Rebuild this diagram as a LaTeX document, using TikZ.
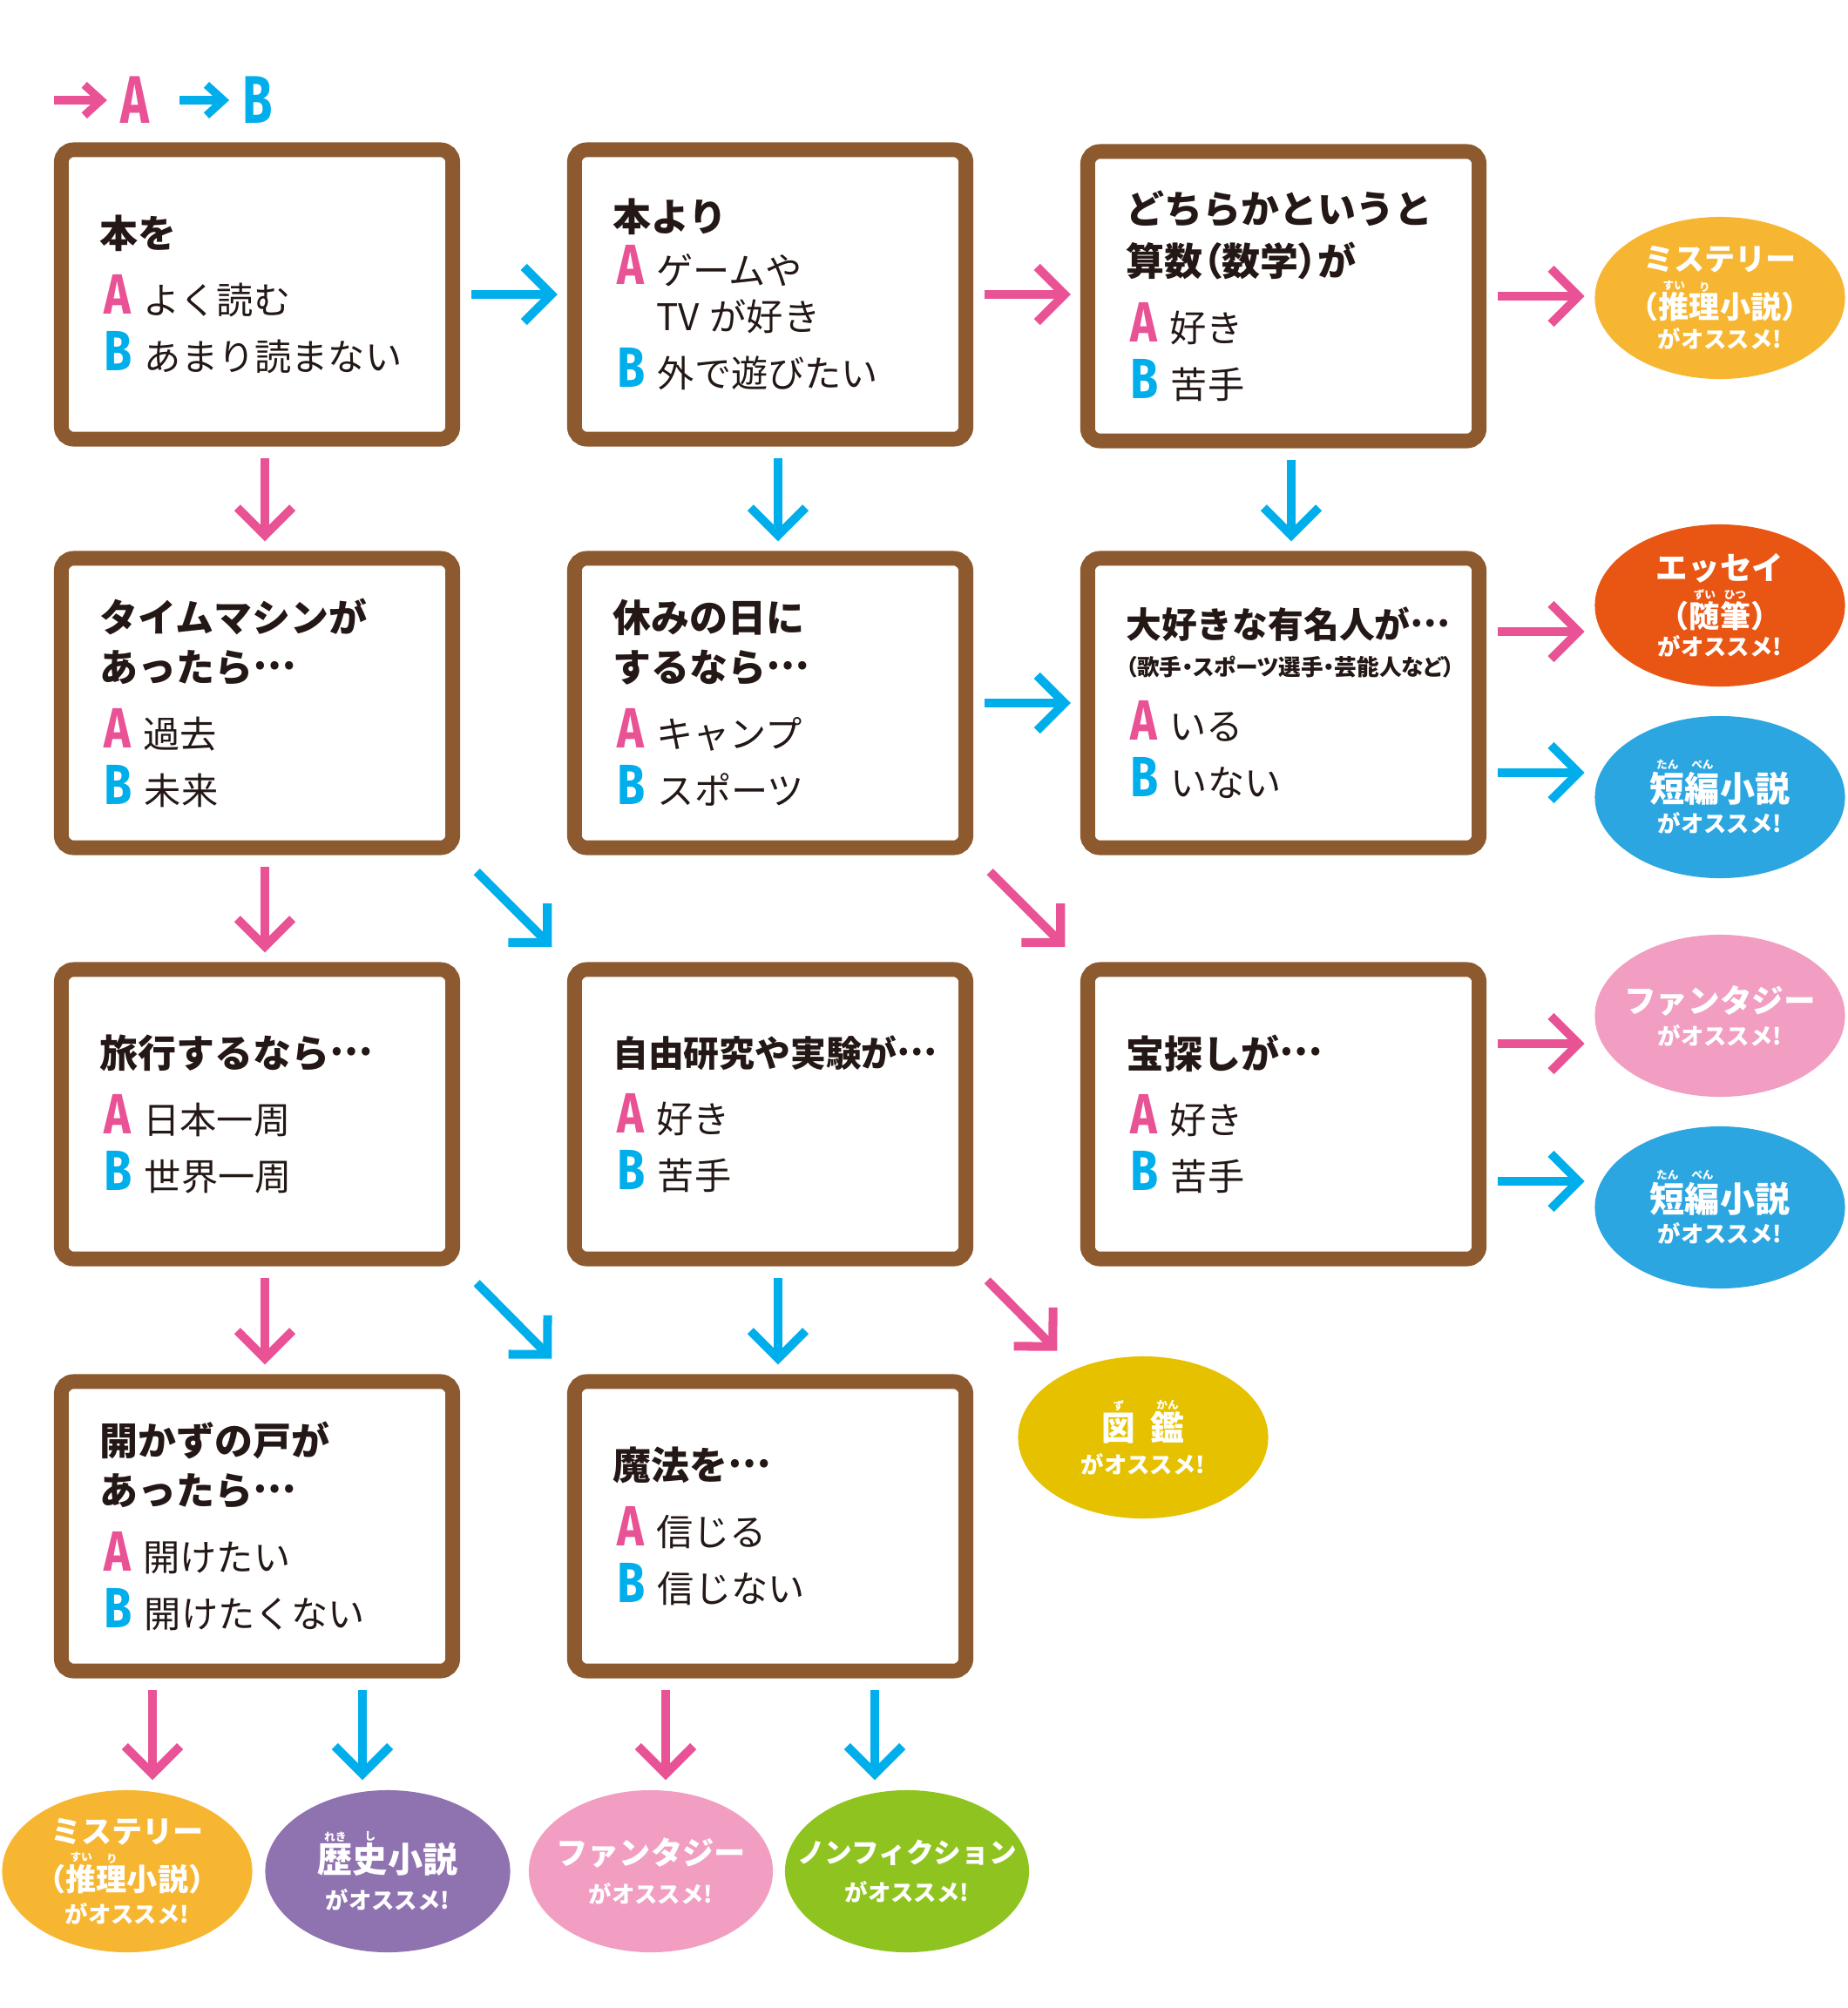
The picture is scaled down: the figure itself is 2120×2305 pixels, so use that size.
\documentclass[tikz,border=0pt]{standalone}
\usepackage{fontspec}
\usepackage{graphicx}
\setmainfont{Noto Sans CJK JP}
\newfontfamily\abc{Fira Sans}
\usetikzlibrary{arrows.meta,positioning,shapes.geometric,calc}

\definecolor{pinkA}{HTML}{E95295}
\definecolor{blueB}{HTML}{00AEEB}
\definecolor{frame}{HTML}{8C5A2E}
\definecolor{ink}{HTML}{231815}
\definecolor{cMyst}{HTML}{F6B631}
\definecolor{cEssay}{HTML}{E95513}
\definecolor{cShort}{HTML}{2CA6E0}
\definecolor{cFant}{HTML}{F19EC2}
\definecolor{cZukan}{HTML}{E6C100}
\definecolor{cHist}{HTML}{8F72B0}
\definecolor{cNonf}{HTML}{8FC31F}

% question title, answer lines
\newcommand{\qt}[1]{{\fontsize{12.5pt}{16.2pt}\selectfont\bfseries #1\par}}
\newcommand{\mk}[2]{{\color{#1}\abc\bfseries\fontsize{18.5pt}{18.5pt}\selectfont\scalebox{0.8}[1]{#2}}}
\newcommand{\op}[3]{{\fontsize{12pt}{18.5pt}\selectfont\hspace*{1.5pt}\mk{#1}{#2}\hspace{4pt}#3\par}}
\newcommand{\ind}{\hspace*{1.5pt}\hphantom{\mk{pinkA}{A}}\hspace{4pt}}
\newcommand{\half}[1]{{\addfontfeatures{RawFeature=+palt}#1}}
\newcommand{\tdots}{\raisebox{0.33em}{…}}
% result ovals
\newcommand{\osu}{{\fontsize{7.5pt}{9pt}\selectfont がオススメ!}}
\newcommand{\furi}[2]{\leavevmode\vbox{\offinterlineskip\halign{\hfil##\hfil\cr{\fontsize{3.6pt}{4pt}\selectfont #2}\cr\noalign{\kern0.6pt}#1\cr}}}

\tikzset{
  qbox/.style={draw=frame, line width=4.8pt, rounded corners=4pt, fill=white,
    minimum width=4.49cm, minimum height=3.32cm, text width=3.61cm,
    inner xsep=0.44cm, inner ysep=0pt, align=left, text=ink},
  res/.style={ellipse, fill=#1, text=white, inner sep=-1cm,
    minimum width=2.87cm, minimum height=1.86cm, align=center,
    font=\bfseries\fontsize{10pt}{15.6pt}\selectfont},
  go/.style={draw=#1, line width=2.85pt,
    -{Straight Barb[length=9pt,width=18pt,sharp]},
    shorten <=0.13cm, shorten >=0.11cm},
  keyl/.style={text=#1, inner sep=0pt, font=\abc\bfseries\fontsize{22pt}{22pt}\selectfont},
  keygo/.style={draw=#1, line width=2.6pt,
    -{Straight Barb[length=5.5pt,width=10pt,sharp]}, shorten >=0.15cm}
}

\begin{document}
\begin{tikzpicture}[x=0.01cm, y=-0.01cm]
\useasboundingbox (0,0) rectangle (2120,2305);

% key
\node[keyl=pinkA] (keyA) at (155,115) {\scalebox{0.72}[1]{A}};
\node[keyl=blueB] (keyB) at (296,115) {\scalebox{0.72}[1]{B}};
\coordinate (kA) at (62,115);
\coordinate (kB) at (206,115);
\draw[keygo=pinkA] (kA) -- (keyA.west);
\draw[keygo=blueB] (kB) -- (keyB.west);

% questions
\node[qbox] (q1) at (295,338) {\qt{本を}\vspace{3pt}\op{pinkA}{A}{よく読む}\op{blueB}{B}{あまり読まない}};
\node[qbox] (q2) at (884,338) {\qt{本より}\vspace{-1.1pt}\op{pinkA}{A}{ゲームや\\[-3.5pt]\ind TV が好き}\op{blueB}{B}{外で遊びたい}};
\node[qbox] (q3) at (1473,340) {\qt{どちらかというと\\[0.8pt]\half{算数（数学）が}}\vspace{3pt}\op{pinkA}{A}{好き}\op{blueB}{B}{苦手}};

\node[qbox] (q4) at (295,807) {\qt{タイムマシンが\\あったら\tdots}\vspace{3pt}\op{pinkA}{A}{過去}\op{blueB}{B}{未来}};
\node[qbox] (q5) at (884,807) {\qt{休みの日に\\するなら\tdots}\vspace{3pt}\op{pinkA}{A}{キャンプ}\op{blueB}{B}{スポーツ}};
\node[qbox] (q6) at (1473,807) {{\fontsize{11.6pt}{16pt}\selectfont\bfseries 大好きな有名人が\tdots\par}{\fontsize{7.3pt}{12.2pt}\selectfont\bfseries\half{（歌手・スポーツ選手・芸能人など）}\par}\vspace{2.5pt}\op{pinkA}{A}{いる}\op{blueB}{B}{いない}};

\node[qbox] (q7) at (295,1279) {\qt{旅行するなら\tdots}\vspace{3pt}\op{pinkA}{A}{日本一周}\op{blueB}{B}{世界一周}};
\node[qbox] (q8) at (884,1279) {{\fontsize{11.6pt}{16pt}\selectfont\bfseries 自由研究や実験が\tdots\par}\vspace{3pt}\op{pinkA}{A}{好き}\op{blueB}{B}{苦手}};
\node[qbox] (q9) at (1473,1279) {\qt{宝探しが\tdots}\vspace{3pt}\op{pinkA}{A}{好き}\op{blueB}{B}{苦手}};

\node[qbox] (q10) at (295,1752) {\qt{開かずの戸が\\あったら\tdots}\vspace{3pt}\op{pinkA}{A}{開けたい}\op{blueB}{B}{開けたくない}};
\node[qbox] (q11) at (884,1752) {\qt{魔法を\tdots}\vspace{3pt}\op{pinkA}{A}{信じる}\op{blueB}{B}{信じない}};

% results
\node[res=cMyst] (r1) at (1974,342) {ミステリー\\（\furi{推}{すい}\furi{理}{り}小説）\\[-6pt]\osu};
\node[res=cEssay] (r2) at (1974,695) {{\fontsize{10.4pt}{12pt}\selectfont エッセイ}\\（\furi{随}{ずい}\furi{筆}{ひつ}）\\[-6.5pt]\osu};
\node[res=cShort] (r3) at (1974,915) {{\fontsize{11.4pt}{12pt}\selectfont\furi{短}{たん}\furi{編}{ぺん}小説}\\[-5.4pt]\osu};
\node[res=cFant] (r4) at (1974,1166) {{\fontsize{10.4pt}{12pt}\selectfont ファンタジー}\\[-5pt]\osu};
\node[res=cShort] (r5) at (1974,1386) {{\fontsize{11.4pt}{12pt}\selectfont\furi{短}{たん}\furi{編}{ぺん}小説}\\[-5.4pt]\osu};
\node[res=cZukan] (zk) at (1312,1650) {{\fontsize{11pt}{12pt}\selectfont\furi{図}{ず}\hspace{5pt}\furi{鑑}{かん}}\\[-4.8pt]\osu};

\node[res=cMyst] (rb1) at (146,2148) {ミステリー\\（\furi{推}{すい}\furi{理}{り}小説）\\[-5pt]\osu};
\node[res=cHist, minimum width=2.81cm] (rb2) at (445,2148) {{\fontsize{11.4pt}{12pt}\selectfont\furi{歴}{れき}\furi{史}{し}小説}\\[-3.6pt]\osu};
\node[res=cFant, minimum width=2.8cm] (rb3) at (747,2148) {{\fontsize{10.3pt}{12pt}\selectfont ファンタジー}\\[-3pt]\osu};
\node[res=cNonf, minimum width=2.8cm] (rb4) at (1041,2148) {{\fontsize{9pt}{12pt}\selectfont ノンフィクション}\\[-3pt]\osu};

% across
\draw[go=blueB] (q1.east) -- (q2.west);
\draw[go=pinkA] (q2.east) -- (q2.east -| q3.west);
\draw[go=pinkA] (q3.east) -- (q3.east -| r1.west);
\draw[go=blueB] (q5.east) -- (q6.west);
\draw[go=pinkA] ($(q6.east)+(0,-82)$) -- ($(r2.west)+(0,30)$);
\draw[go=blueB] ($(q6.east)+(0,80)$) -- ($(r3.west)+(0,-28)$);
\draw[go=pinkA] ($(q9.east)+(0,-81)$) -- ($(r4.west)+(0,32)$);
\draw[go=blueB] ($(q9.east)+(0,77)$) -- ($(r5.west)+(0,-30)$);

% down
\draw[go=pinkA] ($(q1.south)+(9,0)$) -- ($(q4.north)+(9,0)$);
\draw[go=blueB] ($(q2.south)+(9,0)$) -- ($(q5.north)+(9,0)$);
\draw[go=blueB] ($(q3.south)+(9,0)$) -- ($(q6.north)+(9,0)$);
\draw[go=pinkA] ($(q4.south)+(9,0)$) -- ($(q7.north)+(9,0)$);
\draw[go=pinkA] ($(q7.south)+(9,0)$) -- ($(q10.north)+(9,0)$);
\draw[go=blueB] ($(q8.south)+(9,0)$) -- ($(q11.north)+(9,0)$);
\draw[go=pinkA] ($(q10.south)+(-120,0)$) -- ($(rb1.north)+(29,0)$);
\draw[go=blueB] ($(q10.south)+(121,0)$) -- ($(rb2.north)+(-29,0)$);
\draw[go=pinkA] ($(q11.south)+(-120,0)$) -- ($(rb3.north)+(17,0)$);
\draw[go=blueB] ($(q11.south)+(120,0)$) -- ($(rb4.north)+(-37,0)$);

% diagonal
\draw[go=blueB, shorten <=0.27cm, shorten >=0.25cm] (q4.south east) -- (q8.north west);
\draw[go=pinkA, shorten <=0.27cm, shorten >=0.25cm] (q5.south east) -- (q9.north west);
\draw[go=blueB, shorten <=0.27cm, shorten >=0.25cm] (q7.south east) -- (q11.north west);
\draw[go=pinkA, shorten <=0.23cm, shorten >=0.29cm] (q8.south east) -- (zk);
\end{tikzpicture}
\end{document}
